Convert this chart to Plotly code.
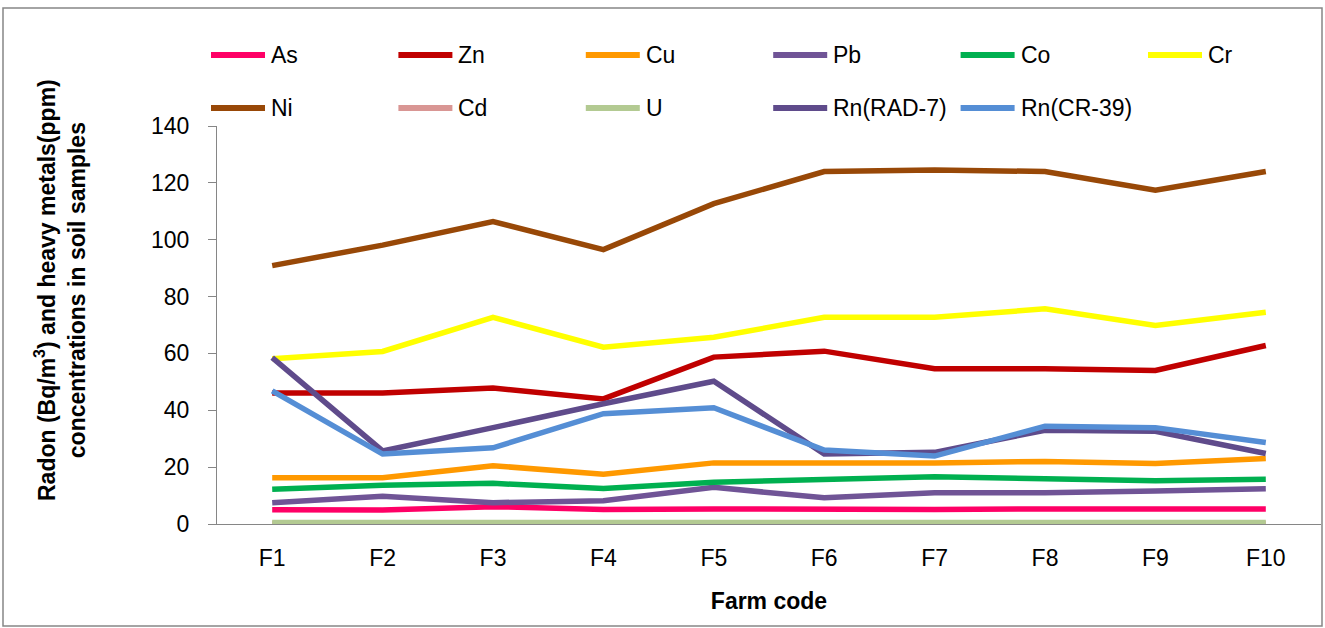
import plotly.graph_objects as go

FARMS = ["F1", "F2", "F3", "F4", "F5", "F6", "F7", "F8", "F9", "F10"]

AS = [5.0, 4.9, 6.1, 5.1, 5.3, 5.1, 5.1, 5.3, 5.1, 5.3]
ZN = [46.1, 46.1, 47.8, 44.0, 58.7, 60.8, 54.6, 54.6, 54.0, 62.8]
CU = [16.3, 16.3, 20.5, 17.5, 21.5, 21.5, 21.5, 22.0, 21.3, 23.0]
PB = [7.5, 9.8, 7.5, 8.2, 12.9, 9.2, 11.0, 11.0, 11.6, 12.4]
CO = [12.2, 13.6, 14.3, 12.5, 14.7, 15.7, 16.6, 15.9, 15.2, 15.7]
CR = [58.1, 60.7, 72.7, 62.2, 65.7, 72.7, 72.7, 75.7, 69.8, 74.5]
NI = [90.9, 98.1, 106.4, 96.5, 112.7, 124.0, 124.5, 124.0, 117.4, 124.0]
CD = [0.2, 0.2, 0.2, 0.2, 0.2, 0.2, 0.2, 0.2, 0.2, 0.2]
U = [0.5, 0.5, 0.5, 0.5, 0.5, 0.5, 0.5, 0.5, 0.5, 0.5]
RN_RAD7 = [58.5, 25.7, 33.9, 42.3, 50.2, 24.6, 25.2, 33.0, 32.6, 24.8]
RN_CR39 = [46.8, 24.6, 26.8, 38.8, 40.9, 26.0, 23.9, 34.4, 33.9, 28.7]

SERIES = [
    ("As", AS, "#FF0066"),
    ("Zn", ZN, "#C00000"),
    ("Cu", CU, "#FF9900"),
    ("Pb", PB, "#705496"),
    ("Co", CO, "#00B050"),
    ("Cr", CR, "#FFFF00"),
    ("Ni", NI, "#984807"),
    ("Cd", CD, "#D99694"),
    ("U", U, "#B3CA92"),
    ("Rn(RAD-7)", RN_RAD7, "#5F4B8B"),
    ("Rn(CR-39)", RN_CR39, "#558ED5"),
]

FONT = "Liberation Sans"
W, H = 1325, 628
L, R, T, B = 217, 4, 126, 104
PW, PH = W - L - R, H - T - B


def px_x(px):
    return (px - L) / PW


def px_y(py):
    return (H - B - py) / PH


fig = go.Figure()
for name, vals, color in SERIES:
    fig.add_trace(
        go.Scatter(
            x=FARMS,
            y=vals,
            mode="lines",
            name=name,
            line=dict(color=color, width=5.5),
            showlegend=False,
        )
    )

# hand-placed legend, two rows of six columns like the original
shapes = []
annotations = []
for i, (name, _, color) in enumerate(SERIES):
    row, col = divmod(i, 6)
    x0 = 211 + col * 187.4
    y0 = 55 + row * 53
    shapes.append(
        dict(
            type="line", xref="paper", yref="paper",
            x0=px_x(x0), x1=px_x(x0 + 54), y0=px_y(y0), y1=px_y(y0),
            line=dict(color=color, width=6),
        )
    )
    annotations.append(
        dict(
            text=name, xref="paper", yref="paper",
            x=px_x(x0 + 58), y=px_y(y0), xanchor="left", yanchor="middle",
            showarrow=False, font=dict(family=FONT, size=23, color="#000000"),
        )
    )

# outer chart border
shapes.append(
    dict(
        type="rect", xref="paper", yref="paper",
        x0=px_x(3), x1=px_x(1322), y0=px_y(8), y1=px_y(626),
        line=dict(color="#868686", width=1.5), layer="below",
    )
)

annotations.append(
    dict(
        text="<b>Radon (Bq/m<sup>3</sup>) and heavy metals(ppm)<br>concentrations in soil samples</b>",
        xref="paper", yref="paper", x=px_x(60), y=px_y(290),
        xanchor="center", yanchor="middle", textangle=-90, showarrow=False,
        font=dict(family=FONT, size=23, color="#000000"),
    )
)

fig.update_layout(
    width=W,
    height=H,
    margin=dict(l=L, r=R, t=T, b=B),
    paper_bgcolor="white",
    plot_bgcolor="white",
    font=dict(family=FONT, size=23, color="#000000"),
    shapes=shapes,
    annotations=annotations,
    xaxis=dict(
        type="category",
        range=[-0.5, 9.5],
        showline=True,
        linecolor="#868686",
        linewidth=1.3,
        ticks="",
        showgrid=False,
        zeroline=False,
        ticklabelstandoff=13,
        tickfont=dict(family=FONT, size=23),
        title=dict(text="<b>Farm code</b>", standoff=23, font=dict(family=FONT, size=23)),
    ),
    yaxis=dict(
        range=[0, 140],
        dtick=20,
        showline=True,
        linecolor="#868686",
        linewidth=1.3,
        ticks="outside",
        ticklen=8,
        tickcolor="#868686",
        tickwidth=1.3,
        showgrid=False,
        zeroline=False,
        ticklabelstandoff=14,
        tickfont=dict(family=FONT, size=23),
    ),
)

fig.write_html(
    "out.html",
    config={"displayModeBar": False},
    post_script="document.body.style.margin='0';",
)
